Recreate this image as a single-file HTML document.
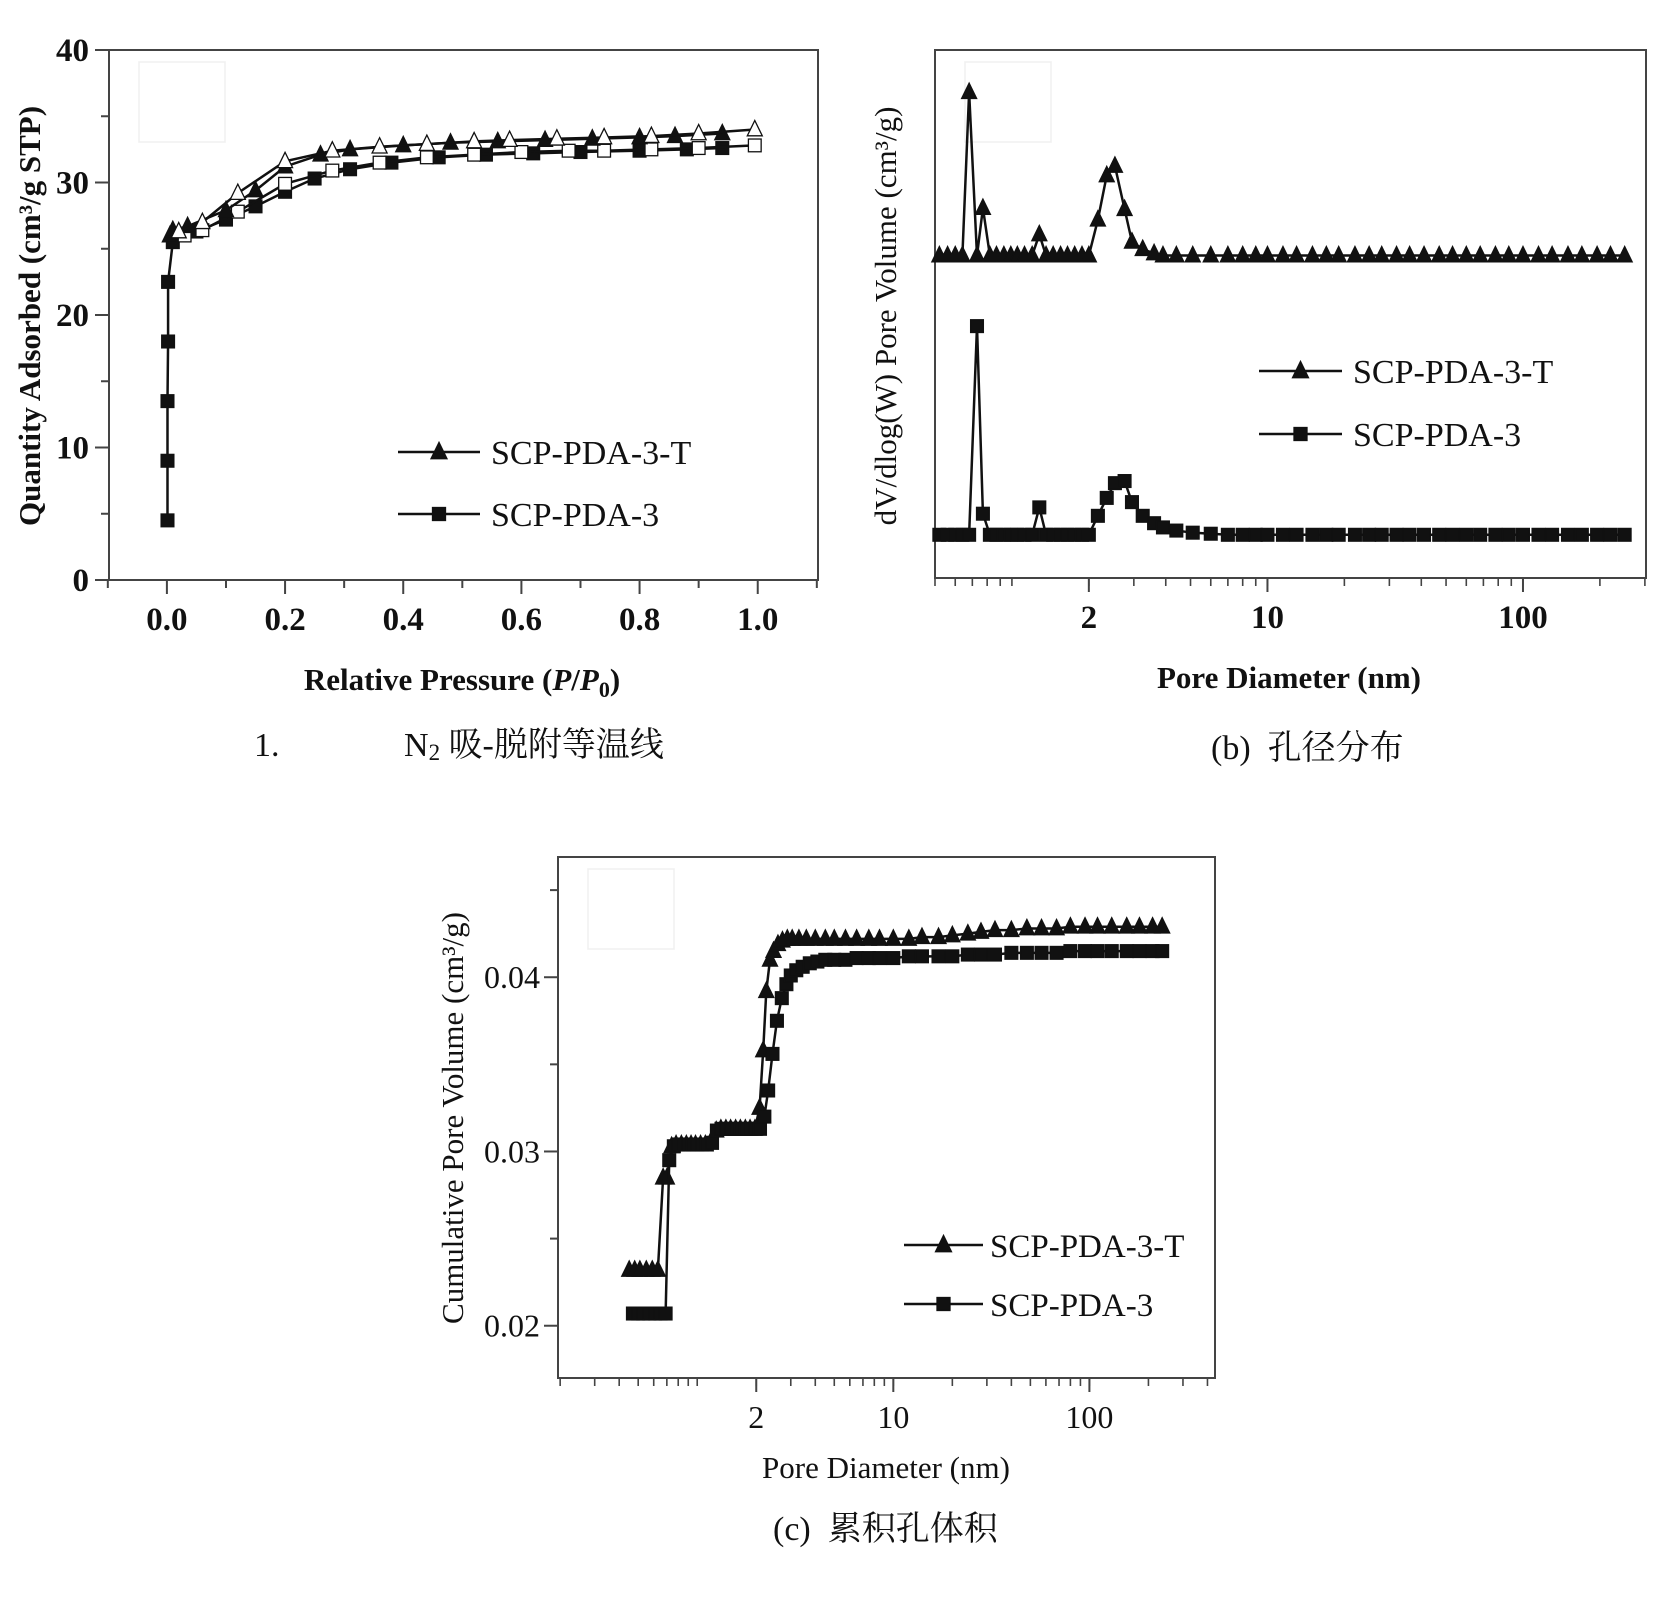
<!DOCTYPE html>
<html><head><meta charset="utf-8">
<style>
html,body{margin:0;padding:0;background:#fff;}
svg{display:block;}
text{font-family:"Liberation Serif","Noto Serif CJK SC",serif;fill:#111;}
</style></head>
<body>
<svg id="fig" width="1655" height="1600" viewBox="0 0 1655 1600" xmlns="http://www.w3.org/2000/svg">
<g id="pa"></g>
<g id="pb"></g>
<g id="pc"></g>
<text x="254" y="756" font-size="34">1.</text>
<text x="404" y="756" font-size="34">N<tspan font-size="23" dy="4">2</tspan><tspan dy="-4"> 吸-脱附等温线</tspan></text>
<text x="1211" y="759" font-size="34" xml:space="preserve">(b)  孔径分布</text>
<text x="773" y="1540" font-size="34" xml:space="preserve">(c)  累积孔体积</text>
</svg>
<script>
// ---- Chart (a) data: N2 isotherm ----
const aSqAdsX=[0.001,0.001,0.001,0.002,0.002,0.01,0.05,0.1,0.15,0.2,0.25,0.31,0.38,0.46,0.54,0.62,0.7,0.8,0.88,0.94];
const aSqAdsY=[4.5,9,13.5,18,22.5,25.5,26.3,27.2,28.2,29.3,30.3,31,31.5,31.9,32.1,32.2,32.3,32.4,32.5,32.6];
const aSqDesX=[0.995,0.9,0.82,0.74,0.68,0.6,0.52,0.44,0.36,0.28,0.2,0.12,0.06,0.03];
const aSqDesY=[32.8,32.6,32.5,32.4,32.4,32.3,32.1,31.9,31.5,30.9,29.9,27.8,26.4,26];
const aTAdsX=[0.005,0.01,0.035,0.1,0.15,0.2,0.26,0.31,0.4,0.48,0.56,0.64,0.72,0.8,0.86,0.94];
const aTAdsY=[26,26.4,26.7,27.9,29.4,31.2,32.1,32.5,32.8,33,33.1,33.2,33.3,33.4,33.5,33.7];
const aTDesX=[0.995,0.9,0.82,0.74,0.66,0.58,0.52,0.44,0.36,0.28,0.2,0.12,0.06,0.02];
const aTDesY=[34,33.7,33.5,33.4,33.3,33.2,33.1,32.9,32.7,32.4,31.6,29.2,27,26.3];
const aXTicks=[0,0.2,0.4,0.6,0.8,1.0];
const aXLabels=["0.0","0.2","0.4","0.6","0.8","1.0"];
const aYTicks=[0,10,20,30,40];

// ---- Chart (b) data: pore size distribution ----
const bD=[0.52,0.56,0.60,0.64,0.68,0.73,0.77,0.82,0.87,0.93,0.99,1.05,1.12,1.2,1.28,1.36,1.45,1.55,1.65,1.76,1.88,2.0,2.17,2.35,2.53,2.76,2.95,3.25,3.6,3.9,4.4,5.1,6,7,8,9,10,11.5,13,15,17,19,22,25,28,32,36,41,47,53,60,68,78,88,100,115,130,150,170,195,220,250];
const bT=[306,306,306,306,461,306,351,306,306,306,306,306,306,306,326,306,306,306,306,306,306,306,340,382,391,350,319,312,308,306,306,306,306,306,306,306,306,306,306,306,306,306,306,306,306,306,306,306,306,306,306,306,306,306,306,306,306,306,306,306,306,306];
const bS=[41,41,41,41,41,239,61,41,41,41,41,41,41,41,67,41,41,41,41,41,41,41,59,76,90,92,72,59,52,48,45,43,42,41,41,41,41,41,41,41,41,41,41,41,41,41,41,41,41,41,41,41,41,41,41,41,41,41,41,41,41,41];
const bXTicks=[2,10,100];
const bXLabels=["2","10","100"];

// ---- Chart (c) data: cumulative pore volume ----
const cTD=[0.45,0.48,0.51,0.55,0.59,0.63,0.67,0.7,0.74,0.78,0.83,0.88,0.93,0.98,1.04,1.1,1.17,1.25,1.32,1.4,1.48,1.57,1.66,1.76,1.86,1.97,2.08,2.17,2.25,2.35,2.45,2.58,2.72,2.88,3.05,3.3,3.6,4,4.5,5,5.7,6.5,7.5,8.5,10,12,14,17,20,24,28,33,40,48,57,68,80,95,110,130,155,180,210,235];
const cTV=[0.0232,0.0232,0.0232,0.0232,0.0232,0.0232,0.0285,0.0285,0.0303,0.0304,0.0304,0.0304,0.0304,0.0304,0.0304,0.0304,0.0305,0.0312,0.0313,0.0313,0.0313,0.0313,0.0313,0.0313,0.0313,0.0313,0.0325,0.0358,0.0392,0.041,0.0415,0.0419,0.0421,0.0422,0.0422,0.0422,0.0422,0.0422,0.0422,0.0422,0.0422,0.0422,0.0422,0.0422,0.0422,0.0422,0.0423,0.0423,0.0424,0.0425,0.0426,0.0427,0.0427,0.0428,0.0428,0.0428,0.0429,0.0429,0.0429,0.0429,0.0429,0.0429,0.0429,0.0429];
const cSD=[0.47,0.5,0.53,0.57,0.61,0.65,0.69,0.72,0.76,0.8,0.85,0.9,0.95,1.0,1.06,1.12,1.19,1.26,1.33,1.41,1.49,1.58,1.67,1.77,1.87,1.98,2.09,2.2,2.3,2.42,2.55,2.7,2.85,3.0,3.2,3.45,3.75,4.1,4.5,5,5.7,6.5,7.5,8.5,10,12,14,17,20,24,28,33,40,48,57,68,80,95,110,130,155,180,210,235];
const cSV=[0.0207,0.0207,0.0207,0.0207,0.0207,0.0207,0.0207,0.0295,0.0303,0.0304,0.0304,0.0304,0.0304,0.0304,0.0304,0.0304,0.0305,0.0312,0.0313,0.0313,0.0313,0.0313,0.0313,0.0313,0.0313,0.0313,0.0313,0.032,0.0335,0.0356,0.0375,0.0388,0.0396,0.0401,0.0404,0.0406,0.0408,0.0409,0.041,0.041,0.041,0.0411,0.0411,0.0411,0.0411,0.0412,0.0412,0.0412,0.0412,0.0413,0.0413,0.0413,0.0414,0.0414,0.0414,0.0414,0.0415,0.0415,0.0415,0.0415,0.0415,0.0415,0.0415,0.0415];
const cYTicks=[0.02,0.03,0.04];
const cYLabels=["0.02","0.03","0.04"];
const cXTicks=[2,10,100];
const cXLabels=["2","10","100"];

const NS="http://www.w3.org/2000/svg";
function mk(parent,tag,attrs){const e=document.createElementNS(NS,tag);for(const k in attrs)e.setAttribute(k,attrs[k]);parent.appendChild(e);return e;}
function lin(d0,d1,r0,r1){return v=>r0+(v-d0)/(d1-d0)*(r1-r0);}
function logs(d0,d1,r0,r1){return v=>r0+(Math.log10(v)-Math.log10(d0))/(Math.log10(d1)-Math.log10(d0))*(r1-r0);}
function tri(g,x,y,fill,s){const p=mk(g,'polygon',{points:`${x},${y-s*0.6} ${x-s/2},${y+s*0.42} ${x+s/2},${y+s*0.42}`,fill:fill,stroke:'#111','stroke-width':1.3});return p;}
function sq(g,x,y,fill,s){return mk(g,'rect',{x:x-s/2,y:y-s/2,width:s,height:s,fill:fill,stroke:'#111','stroke-width':1.3});}
function series(g,xs,ys,sx,sy,shape,fill,name,s){
  const sg=mk(g,'g',{});
  
  
  const pts=xs.map((x,i)=>sx(x)+','+sy(ys[i])).join(' ');
  const pl=mk(sg,'polyline',{points:pts,fill:'none',stroke:'#111','stroke-width':2.5});
  
  
  xs.forEach((x,i)=>{
    const m=shape==='t'?tri(sg,sx(x),sy(ys[i]),fill,s):sq(sg,sx(x),sy(ys[i]),fill,s*0.85);
    
    
  });
}
function frame(g,L,R,T,B,name){
  const r=mk(g,'rect',{x:L,y:T,width:R-L,height:B-T,fill:'none',stroke:'#444','stroke-width':2});
  
  
  const e=mk(g,'rect',{x:L+30,y:T+12,width:86,height:80,fill:'none',stroke:'#f0f0f0','stroke-width':1.5});
  
  
}
function legend(g,x1,x2,y1,y2,tx,fs){
  const entries=[['t','SCP-PDA-3-T',y1],['s','SCP-PDA-3',y2]];
  entries.forEach(en=>{
    const lg=mk(g,'g',{});
    
    
    mk(lg,'line',{x1:x1,x2:x2,y1:en[2],y2:en[2],stroke:'#111','stroke-width':2.5});
    const xm=(x1+x2)/2;
    if(en[0]==='t')tri(lg,xm,en[2],'#111',16);else sq(lg,xm,en[2],'#111',13);
    const t=mk(lg,'text',{x:tx,y:en[2]+12,'font-size':fs});
    t.textContent=en[1];
  });
}
function txt(g,x,y,s,attrs,name){const t=mk(g,'text',Object.assign({x:x,y:y},attrs));t.textContent=s;return t;}
function logMinor(g,sx,L,R,B,d0,d1,len){
  for(let dec=-1;dec<=3;dec++)for(let k=1;k<=9;k++){const v=k*Math.pow(10,dec);if(v<d0||v>d1)continue;const x=sx(v);mk(g,'line',{x1:x,x2:x,y1:B,y2:B+len,stroke:'#444','stroke-width':1.6});}
}

// ===== Chart A =====
(function(){
  const g=document.getElementById('pa');
  const L=109,R=818,T=50,B=580;
  const sx=lin(-0.098,1.102,L,R), sy=lin(0,40,B,T);
  frame(g,L,R,T,B,'plot-frame');
  for(let v=-0.1;v<=1.11;v+=0.1){const x=sx(v);mk(g,'line',{x1:x,x2:x,y1:B,y2:B+(Math.abs(Math.round(v*10)%2)===0?14:8),stroke:'#444','stroke-width':2});}
  aXTicks.forEach((v,i)=>txt(g,sx(v),B+50,aXLabels[i],{'font-size':33,'font-weight':'bold','text-anchor':'middle'},'x-tick-label'));
  for(let v=0;v<=40;v+=5){const y=sy(v);mk(g,'line',{x1:L,x2:L-(v%10===0?14:8),y1:y,y2:y,stroke:'#444','stroke-width':2});}
  aYTicks.forEach(v=>txt(g,L-20,sy(v)+11,String(v),{'font-size':33,'font-weight':'bold','text-anchor':'end'},'y-tick-label'));
  txt(g,0,0,'Quantity Adsorbed (cm³/g STP)',{'font-size':31,'font-weight':'bold','text-anchor':'middle',transform:'translate(40,316) rotate(-90)'},'y-axis-title');
  const xt=txt(g,462,690,'',{'font-size':31,'font-weight':'bold','text-anchor':'middle'},'x-axis-title');
  xt.innerHTML='Relative Pressure (<tspan font-style="italic">P</tspan>/<tspan font-style="italic">P</tspan><tspan font-size="22" dy="7">0</tspan><tspan dy="-7">)</tspan>';
  series(g,aSqAdsX,aSqAdsY,sx,sy,'s','#111','scp-pda-3-adsorption',15);
  series(g,aSqDesX,aSqDesY,sx,sy,'s','#fff','scp-pda-3-desorption',15);
  series(g,aTAdsX,aTAdsY,sx,sy,'t','#111','scp-pda-3-t-adsorption',15);
  series(g,aTDesX,aTDesY,sx,sy,'t','#fff','scp-pda-3-t-desorption',15);
  legend(g,398,480,452,514,491,34);
})();

// ===== Chart B =====
(function(){
  const g=document.getElementById('pb');
  const L=935,R=1646,T=50,B=578;
  const sx=logs(0.5,303,L,R), sy=lin(0,501,B,T);
  frame(g,L,R,T,B,'plot-frame');
  logMinor(g,sx,L,R,B,0.5,303,8);
  bXTicks.forEach((v,i)=>{const x=sx(v);mk(g,'line',{x1:x,x2:x,y1:B,y2:B+14,stroke:'#444','stroke-width':2});txt(g,x,B+50,bXLabels[i],{'font-size':33,'font-weight':'bold','text-anchor':'middle'},'x-tick-label');});
  txt(g,0,0,'dV/dlog(W) Pore Volume (cm³/g)',{'font-size':31,'text-anchor':'middle',transform:'translate(896,316) rotate(-90)'},'y-axis-title');
  txt(g,1289,688,'Pore Diameter (nm)',{'font-size':31,'font-weight':'bold','text-anchor':'middle'},'x-axis-title');
  series(g,bD,bT,sx,sy,'t','#111','scp-pda-3-t-distribution',15);
  series(g,bD,bS,sx,sy,'s','#111','scp-pda-3-distribution',15);
  legend(g,1259,1342,371,434,1353,34);
})();

// ===== Chart C =====
(function(){
  const g=document.getElementById('pc');
  const L=558,R=1215,T=857,B=1378;
  const sx=logs(0.195,437,L,R), sy=lin(0.017,0.0469,B,T);
  frame(g,L,R,T,B,'plot-frame');
  logMinor(g,sx,L,R,B,0.195,437,8);
  cXTicks.forEach((v,i)=>{const x=sx(v);mk(g,'line',{x1:x,x2:x,y1:B,y2:B+14,stroke:'#444','stroke-width':2});txt(g,x,B+50,cXLabels[i],{'font-size':32,'text-anchor':'middle'},'x-tick-label');});
  [0.025,0.035,0.045].forEach(v=>{const y=sy(v);mk(g,'line',{x1:L,x2:L-8,y1:y,y2:y,stroke:'#444','stroke-width':2});});
  cYTicks.forEach((v,i)=>{const y=sy(v);mk(g,'line',{x1:L,x2:L-14,y1:y,y2:y,stroke:'#444','stroke-width':2});txt(g,L-18,y+11,cYLabels[i],{'font-size':32,'text-anchor':'end'},'y-tick-label');});
  txt(g,0,0,'Cumulative Pore Volume (cm³/g)',{'font-size':31,'text-anchor':'middle',transform:'translate(463,1118) rotate(-90)'},'y-axis-title');
  txt(g,886,1478,'Pore Diameter (nm)',{'font-size':31,'text-anchor':'middle'},'x-axis-title');
  series(g,cTD,cTV,sx,sy,'t','#111','scp-pda-3-t-cumulative',15);
  series(g,cSD,cSV,sx,sy,'s','#111','scp-pda-3-cumulative',15);
  legend(g,904,983,1245,1304,990,33);
})();
</script>
</body></html>
